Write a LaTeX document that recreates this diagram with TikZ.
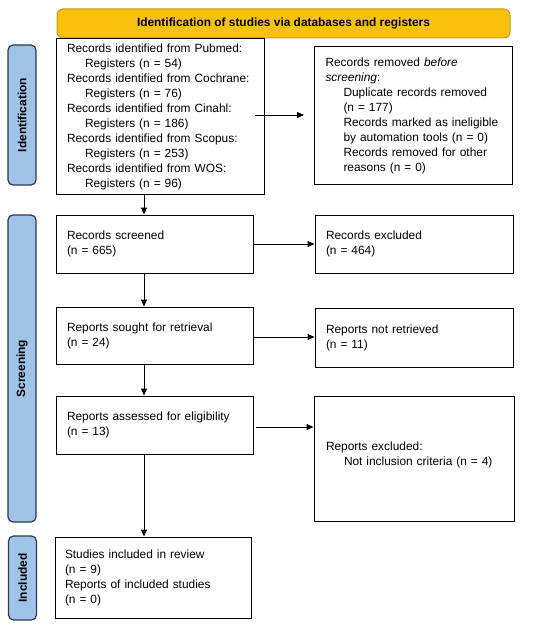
\documentclass[tikz,border=0pt]{standalone}
\usepackage{fontspec}
\setmainfont{Liberation Sans}
\usetikzlibrary{arrows.meta}

\definecolor{bannerfill}{HTML}{F9C10E}
\definecolor{bannerline}{HTML}{C99A1A}
\definecolor{phasefill}{HTML}{A0C4E8}
\definecolor{phaseline}{HTML}{2B3A4A}
\newcommand{\regindent}{\hspace*{18pt}}

\begin{document}
\begin{tikzpicture}[x=1pt,y=-1pt,
  every node/.style={font=\fontsize{11.9}{15}\selectfont},
  banner/.style={draw=bannerline,fill=bannerfill,line width=1pt,rounded corners=6pt,
    minimum width=453pt,minimum height=29pt,font=\fontsize{11.9}{15}\selectfont\bfseries},
  phase/.style={draw=phaseline,fill=phasefill,line width=1.2pt,rounded corners=5pt,
    rotate=90,minimum height=28pt,inner sep=0pt,font=\fontsize{11.9}{15}\selectfont\bfseries},
  recbox/.style={draw,line width=1pt,align=left,inner xsep=11pt,inner ysep=0pt},
  flow/.style={-{Triangle[length=7pt,width=6pt]},line width=1pt}]
\useasboundingbox (0,0) rectangle (550,626);

\node[banner] (head) at (283.5,23.5) {Identification of studies via databases and registers};

\node[phase,minimum width=140pt] (pident) at (22,115) {Identification};
\node[phase,minimum width=307pt] (pscreen) at (22,368.5) {Screening};
\node[phase,minimum width=84pt] (pincl) at (22.5,578) {Included};

\node[recbox,text width=186pt,minimum height=155pt] (ident) at (160,116.5)
  {Records identified from Pubmed:\\ \regindent Registers (n = 54)\\
   Records identified from Cochrane:\\ \regindent Registers (n = 76)\\
   Records identified from Cinahl:\\ \regindent Registers (n = 186)\\
   Records identified from Scopus:\\ \regindent Registers (n = 253)\\
   Records identified from WOS:\\ \regindent Registers (n = 96)};
\node[recbox,text width=176pt,minimum height=137pt] (removed) at (413.5,115.5)
  {Records removed \textit{before}\\ \textit{screening}:\\
   \regindent Duplicate records removed\\ \regindent (n = 177)\\
   \regindent Records marked as ineligible\\ \regindent by automation tools (n = 0)\\
   \regindent Records removed for other\\ \regindent reasons (n = 0)};

\node[recbox,text width=175pt,minimum height=58pt] (screened) at (154.5,244)
  {Records screened\\ (n = 665)};
\node[recbox,text width=176pt,minimum height=58pt] (excluded) at (414,244)
  {Records excluded\\ (n = 464)};

\node[recbox,text width=175pt,minimum height=57pt] (sought) at (154.5,335.5)
  {Reports sought for retrieval\\ (n = 24)};
\node[recbox,text width=176pt,minimum height=59pt] (notretr) at (414,337.5)
  {Reports not retrieved\\ (n = 11)};

\node[recbox,text width=175pt,minimum height=58pt] (assessed) at (154.5,425)
  {Reports assessed for eligibility\\ (n = 13)};
\node[recbox,text width=176pt,minimum height=125pt,inner xsep=12pt] (repexcl) at (414,458.5)
  {Reports excluded:\\ \regindent Not inclusion criteria (n = 4)\\[-5pt] \mbox{}};

\node[recbox,text width=176pt,minimum height=81pt,inner xsep=10pt] (incl) at (153,577.5)
  {Studies included in review\\ (n = 9)\\ Reports of included studies\\ (n = 0)};

% main spine
\coordinate (spine) at (144,0);
\draw[flow] (ident.south -| spine) -- (screened.north -| spine);
\draw[flow] (screened.south -| spine) -- (sought.north -| spine);
\draw[flow] (sought.south -| spine) -- (assessed.north -| spine);
\draw[flow] (assessed.south -| spine) -- (incl.north -| spine);

% side arrows
\draw[flow] ([xshift=-10pt,yshift=1.5pt]ident.east) -- ([xshift=-10pt,yshift=1.5pt]ident.east -| removed.west);
\draw[flow] (screened.east) -- (screened.east -| excluded.west);
\draw[flow] ([yshift=-1.5pt]sought.east) -- ([yshift=-1.5pt]sought.east -| notretr.west);
\draw[flow] ([xshift=2pt,yshift=-2pt]assessed.east) -- ([yshift=-2pt]assessed.east -| repexcl.west);
\end{tikzpicture}
\end{document}
